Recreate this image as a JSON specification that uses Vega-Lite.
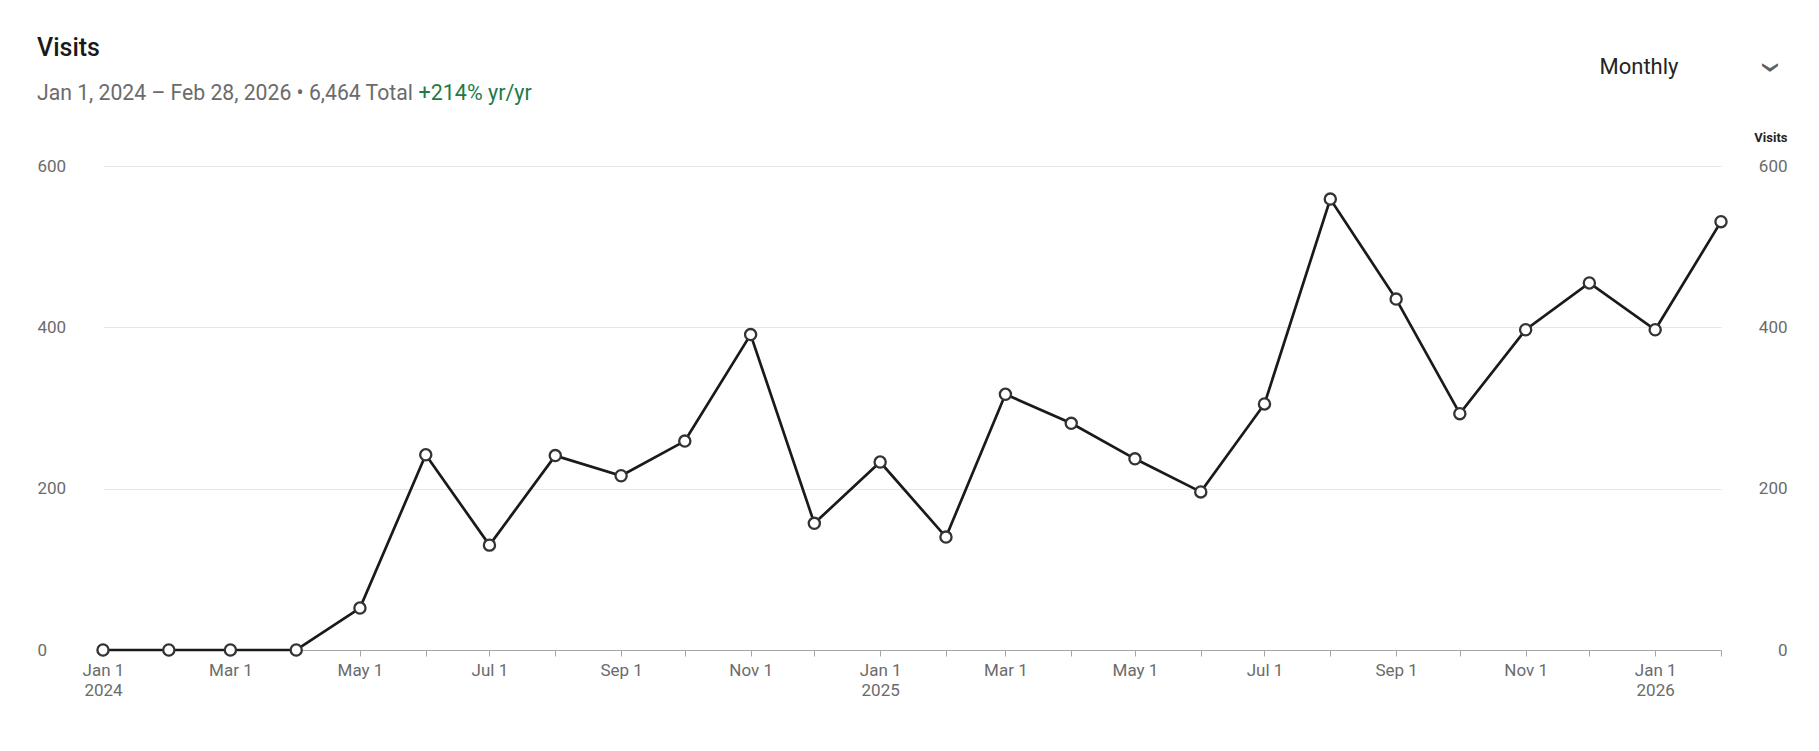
{
  "$schema": "https://vega.github.io/schema/vega-lite/v6.json",
  "width": 1618,
  "height": 484,
  "autosize": {"type": "none"},
  "padding": {"left": 103, "top": 166, "right": 98, "bottom": 101},
  "background": "white",
  "config": {"view": {"stroke": null}},
  "title": {
    "text": "Visits",
    "subtitle": "Jan 1, 2024 – Feb 28, 2026 • 6,464 Total",
    "anchor": "start",
    "frame": "bounds",
    "offset": -49,
    "font": "Roboto",
    "fontSize": 25,
    "fontWeight": 500,
    "color": "#1a1a1a",
    "subtitleFont": "Roboto",
    "subtitleFontSize": 21.2,
    "subtitleColor": "#6b6b6b",
    "subtitlePadding": 22
  },
  "data": {
    "values": [
      {"month": "2024-01-01", "visits": 0},
      {"month": "2024-02-01", "visits": 0},
      {"month": "2024-03-01", "visits": 0},
      {"month": "2024-04-01", "visits": 0},
      {"month": "2024-05-01", "visits": 52},
      {"month": "2024-06-01", "visits": 242},
      {"month": "2024-07-01", "visits": 130},
      {"month": "2024-08-01", "visits": 241},
      {"month": "2024-09-01", "visits": 216},
      {"month": "2024-10-01", "visits": 259},
      {"month": "2024-11-01", "visits": 391},
      {"month": "2024-12-01", "visits": 157},
      {"month": "2025-01-01", "visits": 233},
      {"month": "2025-02-01", "visits": 140},
      {"month": "2025-03-01", "visits": 317},
      {"month": "2025-04-01", "visits": 281},
      {"month": "2025-05-01", "visits": 237},
      {"month": "2025-06-01", "visits": 196},
      {"month": "2025-07-01", "visits": 305},
      {"month": "2025-08-01", "visits": 559},
      {"month": "2025-09-01", "visits": 435},
      {"month": "2025-10-01", "visits": 293},
      {"month": "2025-11-01", "visits": 397},
      {"month": "2025-12-01", "visits": 455},
      {"month": "2026-01-01", "visits": 397},
      {"month": "2026-02-01", "visits": 531}
    ]
  },
  "layer": [
    {
      "mark": {"type": "line", "color": "#1a1a1a", "strokeWidth": 2.7},
      "encoding": {
        "x": {
          "field": "month",
          "type": "temporal",
          "scale": {"type": "utc"},
          "axis": {
            "orient": "bottom",
            "title": "›",
            "titleX": 1667,
            "titleY": -583,
            "titleAngle": 90,
            "titleAlign": "center",
            "titleBaseline": "middle",
            "titleFont": "Roboto",
            "titleFontSize": 40,
            "titleFontWeight": 400,
            "titleColor": "#5f5f5f",
            "tickCount": {"interval": "month", "step": 1},
            "labelExpr": "utcmonth(datum.value) % 2 == 0 ? (utcmonth(datum.value) == 0 ? [utcFormat(datum.value, '%b %-d'), utcFormat(datum.value, '%Y')] : utcFormat(datum.value, '%b %-d')) : ''",
            "labelFont": "Roboto",
            "labelFontSize": 17,
            "labelColor": "#6b6b6b",
            "labelPadding": 6,
            "labelLineHeight": 20,
            "labelFlush": false,
            "labelOverlap": false,
            "labelBound": false,
            "tickSize": 6,
            "tickColor": "#a6a6a6",
            "domainColor": "#a6a6a6",
            "grid": false
          }
        },
        "y": {
          "field": "visits",
          "type": "quantitative",
          "scale": {"domain": [0, 600], "nice": false},
          "axis": {
            "orient": "left",
            "values": [0, 200, 400, 600],
            "grid": true,
            "gridColor": "#e6e6e6",
            "gridWidth": 1,
            "domain": false,
            "ticks": false,
            "tickSize": 0,
            "labelAlign": "left",
            "labelBaseline": "middle",
            "labelPadding": 66,
            "labelFont": "Roboto",
            "labelFontSize": 17,
            "labelColor": "#6b6b6b",
            "title": "+214% yr/yr",
            "titleX": 315,
            "titleY": -67,
            "titleAngle": 0,
            "titleAlign": "left",
            "titleBaseline": "alphabetic",
            "titleFont": "Roboto",
            "titleFontSize": 21.5,
            "titleFontWeight": 400,
            "titleColor": "#1e7a46"
          }
        }
      }
    },
    {
      "mark": {"type": "point", "shape": "circle", "filled": true, "fill": "white", "stroke": "#333333", "strokeWidth": 2.3, "size": 125, "opacity": 1},
      "encoding": {
        "x": {
          "field": "month",
          "type": "temporal",
          "scale": {"type": "utc"},
          "axis": {
            "orient": "top",
            "title": "Monthly",
            "titleX": 1496,
            "titleY": -93,
            "titleAngle": 0,
            "titleAlign": "left",
            "titleBaseline": "alphabetic",
            "titleFont": "Roboto",
            "titleFontSize": 22,
            "titleFontWeight": 400,
            "titleColor": "#242424",
            "labels": false,
            "ticks": false,
            "domain": false,
            "grid": false
          }
        },
        "y": {
          "field": "visits",
          "type": "quantitative",
          "scale": {"domain": [0, 600], "nice": false},
          "axis": {
            "orient": "right",
            "values": [0, 200, 400, 600],
            "grid": false,
            "domain": false,
            "ticks": false,
            "tickSize": 0,
            "labelAlign": "right",
            "labelBaseline": "middle",
            "labelPadding": 66,
            "labelFont": "Roboto",
            "labelFontSize": 17,
            "labelColor": "#6b6b6b",
            "title": "Visits",
            "titleX": 66,
            "titleY": -29,
            "titleAngle": 0,
            "titleAlign": "right",
            "titleBaseline": "middle",
            "titleFont": "Roboto",
            "titleFontSize": 13,
            "titleFontWeight": "bold",
            "titleColor": "#242424"
          }
        }
      }
    }
  ],
  "resolve": {"axis": {"x": "independent", "y": "independent"}}
}
